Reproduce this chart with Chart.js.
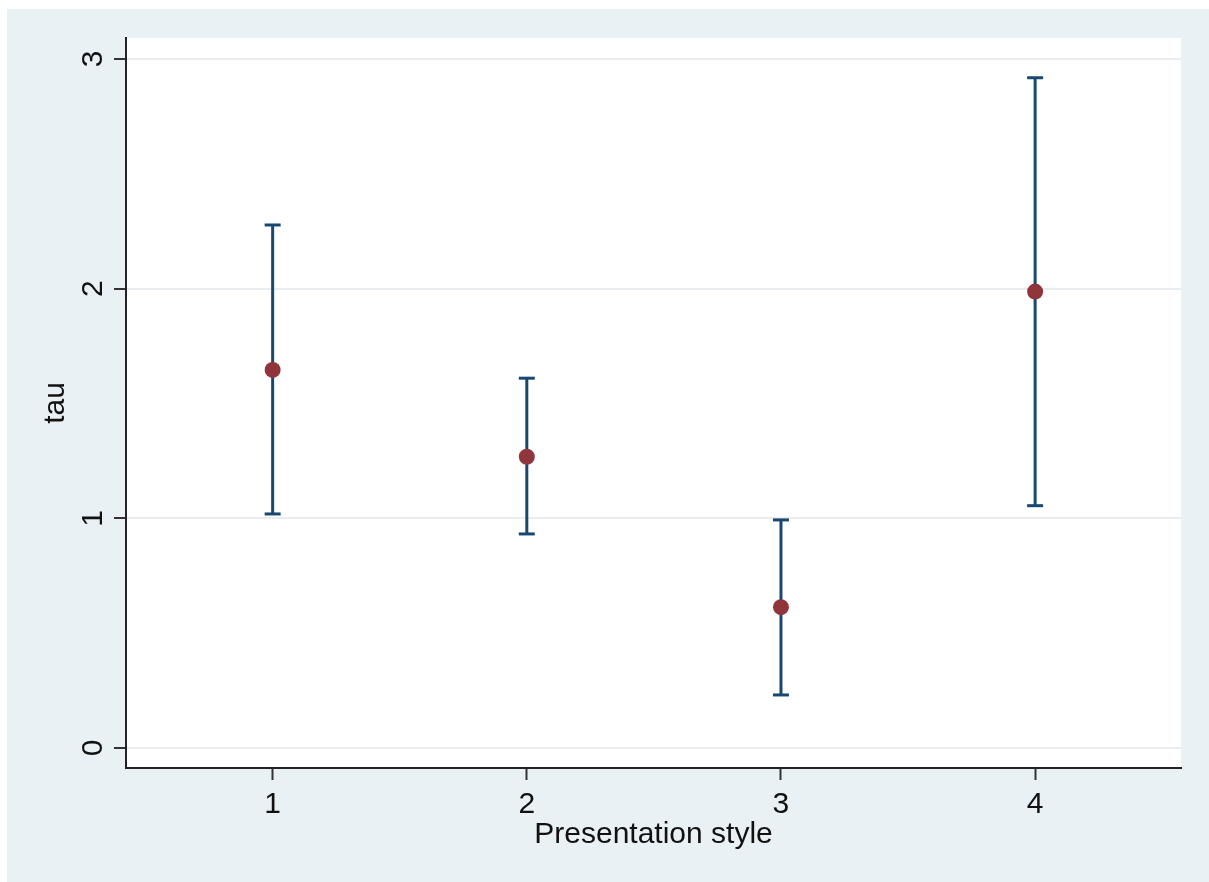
<!DOCTYPE html>
<html>
<head>
<meta charset="utf-8">
<script src="https://cdn.jsdelivr.net/npm/chart.js@4.4.1/dist/chart.umd.min.js"></script>
<style>
  body { margin: 0; background: #ffffff; }
  #wrap { width: 1209px; height: 882px; position: relative; }
</style>
</head>
<body>
<div id="wrap"><canvas id="tauChart"></canvas></div>
<script>
// Presentation style categories and tau estimates with confidence interval
const styles = [1, 2, 3, 4];
const tauMean = [1.646, 1.268, 0.613, 1.987];
const tauLower = [1.019, 0.932, 0.231, 1.055];
const tauUpper = [2.277, 1.610, 0.993, 2.918];
const yTicks = [0, 1, 2, 3];

const navy = '#1a476f';
const maroon = '#90353b';
const textFont = '"Liberation Sans", Arial, Helvetica, sans-serif';

// background: light bluish graph region, white plot region
const backgroundPlugin = {
    id: 'stataBackground',
    beforeDraw(chart) {
        const ctx = chart.ctx;
        const area = chart.chartArea;
        ctx.save();
        ctx.fillStyle = '#ffffff';
        ctx.fillRect(0, 0, chart.width, chart.height);
        ctx.fillStyle = '#eaf1f4';
        ctx.fillRect(7, 9, chart.width - 7, chart.height - 9);
        ctx.fillStyle = '#ffffff';
        ctx.fillRect(area.left, area.top, area.right - area.left, area.bottom - area.top);
        ctx.restore();
    }
};

// y tick labels are rotated like in Stata
const yLabelPlugin = {
    id: 'rotatedYLabels',
    afterDraw(chart) {
        const scale = chart.scales.y;
        const ctx = chart.ctx;
        ctx.save();
        ctx.fillStyle = '#111111';
        ctx.font = '30px ' + textFont;
        ctx.textAlign = 'center';
        ctx.textBaseline = 'alphabetic';
        scale.ticks.forEach(function (t) {
            const py = scale.getPixelForValue(t.value);
            ctx.save();
            ctx.translate(scale.right - 24, py);
            ctx.rotate(-Math.PI / 2);
            ctx.fillText(String(t.value), 0, 0);
            ctx.restore();
        });
        ctx.restore();
    }
};

const datasets = [{
    type: 'scatter',
    label: 'tau',
    data: styles.map((s, i) => ({ x: s, y: tauMean[i] })),
    pointRadius: 8,
    pointBackgroundColor: maroon,
    pointBorderColor: maroon,
    pointBorderWidth: 0,
    order: 0
}];

// one dataset per category for the CI bar, caps drawn as 'line' point style
styles.forEach(function (s, i) {
    datasets.push({
        type: 'line',
        label: 'CI ' + s,
        data: [{ x: s, y: tauLower[i] }, { x: s, y: tauUpper[i] }],
        borderColor: navy,
        borderWidth: 3,
        pointStyle: 'line',
        pointRadius: 8,
        pointBorderWidth: 3,
        pointBorderColor: navy,
        fill: false,
        order: 1
    });
});

const ctx = document.getElementById('tauChart').getContext('2d');
window.tauChart = new Chart(ctx, {
    data: { datasets: datasets },
    options: {
        responsive: true,
        maintainAspectRatio: false,
        animation: false,
        layout: { padding: { left: 7, top: 38, right: 28, bottom: 0 } },
        plugins: {
            legend: { display: false },
            tooltip: { enabled: false }
        },
        scales: {
            x: {
                type: 'linear',
                min: 0.423,
                max: 4.574,
                afterFit: function (scale) { scale.height = 114; },
                afterBuildTicks: function (scale) {
                    scale.ticks = styles.map(v => ({ value: v }));
                },
                ticks: {
                    stepSize: 1,
                    includeBounds: false,
                    padding: 7,
                    color: '#111111',
                    font: { family: textFont, size: 30 }
                },
                grid: {
                    display: true,
                    drawOnChartArea: false,
                    drawTicks: true,
                    tickLength: 12,
                    tickColor: '#333333',
                    tickWidth: 2
                },
                border: { display: true, color: '#222222', width: 2 },
                title: {
                    display: true,
                    text: 'Presentation style',
                    color: '#111111',
                    font: { family: textFont, size: 30 },
                    padding: { top: 0, bottom: 29 }
                }
            },
            y: {
                type: 'linear',
                min: -0.087,
                max: 3.091,
                afterFit: function (scale) { scale.width = 119; },
                afterBuildTicks: function (scale) {
                    scale.ticks = yTicks.map(v => ({ value: v }));
                },
                ticks: {
                    stepSize: 1,
                    includeBounds: false,
                    color: 'rgba(0,0,0,0)',
                    font: { family: textFont, size: 25 }
                },
                grid: {
                    color: '#e9edef',
                    lineWidth: 2,
                    drawTicks: true,
                    tickLength: 12,
                    tickColor: '#333333',
                    tickWidth: 2
                },
                border: { display: true, color: '#222222', width: 2 },
                title: {
                    display: true,
                    text: 'tau',
                    color: '#111111',
                    font: { family: textFont, size: 30 },
                    padding: { top: 31, bottom: 0 }
                }
            }
        }
    },
    plugins: [backgroundPlugin, yLabelPlugin]
});
</script>
</body>
</html>
